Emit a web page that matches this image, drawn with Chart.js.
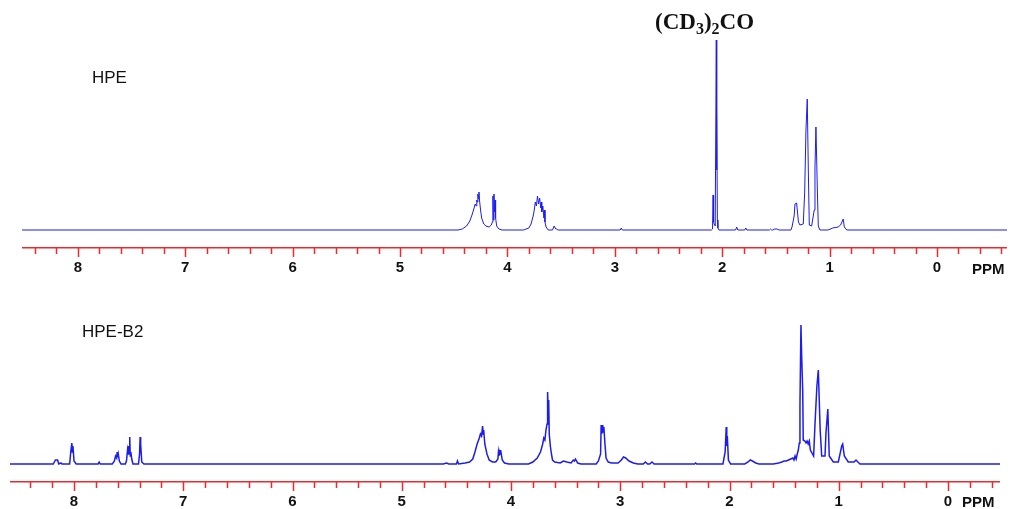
<!DOCTYPE html>
<html>
<head>
<meta charset="utf-8">
<script src="https://cdn.jsdelivr.net/npm/chart.js@4.4.1/dist/chart.umd.min.js"></script>
<style>
  body { margin: 0; background: #fff; }
  #wrap { position: relative; width: 1010px; height: 509px; overflow: hidden; font-family: "Liberation Sans", Arial, sans-serif; }
  canvas { position: absolute; }
  .lbl { position: absolute; color: #111; white-space: nowrap; line-height: 1; }
  .solvent { font-family: "Liberation Serif", "Times New Roman", serif; font-weight: bold; font-size: 23px; }
  .solvent sub { font-size: 16px; vertical-align: -5px; line-height: 0; }
  .ppm { font-weight: bold; font-size: 15px; }
</style>
</head>
<body>
<div id="wrap">
  <canvas id="topChart" width="985" height="275" style="left:22px;top:0px"></canvas>
  <canvas id="bottomChart" width="990" height="209" style="left:10px;top:300px"></canvas>
  <div class="lbl solvent" style="left:655px;top:10px">(CD<sub>3</sub>)<sub>2</sub>CO</div>
  <div class="lbl" style="left:92px;top:69px;font-size:17px">HPE</div>
  <div class="lbl" style="left:82px;top:323px;font-size:17px">HPE-B2</div>
  <div class="lbl ppm" style="left:972px;top:261px">PPM</div>
  <div class="lbl ppm" style="left:962px;top:494px">PPM</div>
</div>
<script>
// integer labels on the ppm axis
const ppmLabels = [8, 7, 6, 5, 4, 3, 2, 1, 0];

// HPE spectrum (chemical shift, ppm / relative intensity)
const hpeShift = [
  8.52, 4.46, 4.42, 4.38, 4.35, 4.33, 4.31, 4.30, 4.29, 4.285, 4.28, 4.275, 4.27, 4.265, 4.26, 4.25, 4.24, 4.22, 4.20, 4.17,
  4.15, 4.14, 4.135, 4.13, 4.125, 4.12, 4.115, 4.11, 4.10, 4.08, 4.05,
  3.85, 3.80, 3.78, 3.76, 3.75, 3.74, 3.73, 3.72, 3.71, 3.70, 3.69, 3.685, 3.68, 3.67, 3.66, 3.655, 3.65, 3.64, 3.62,
  3.58, 3.565, 3.55, 3.54, 3.53,
  2.95, 2.94, 2.93,
  2.10, 2.09, 2.085, 2.08, 2.075, 2.065, 2.055, 2.052, 2.05, 2.045, 2.04, 2.03,
  1.875, 1.865, 1.855, 1.79, 1.78, 1.77, 1.56, 1.55, 1.54, 1.53, 1.51, 1.49, 1.47,
  1.36, 1.35, 1.33, 1.322, 1.307, 1.29, 1.276, 1.245, 1.232, 1.22, 1.208, 1.198, 1.189, 1.167,
  1.143, 1.136, 1.127, 1.115, 1.105, 1.09, 1.015, 0.97, 0.92, 0.897, 0.873, 0.863, 0.84, -0.652
];
const hpeIntensity = [
  0, 0, 1, 4, 9, 15, 22, 26, 24, 30, 28, 36, 31, 38, 30, 20, 12, 6, 4, 3,
  5, 8, 34, 10, 36, 18, 30, 12, 4, 1, 0,
  0, 2, 6, 14, 20, 28, 24, 34, 26, 32, 22, 28, 18, 24, 12, 20, 8, 3, 0,
  0, 4, 1, 1, 0,
  0, 2, 0,
  0, 1, 35, 8, 6, 4, 190, 60, 125, 10, 2, 0,
  0, 3, 0, 0, 2, 0, 0, 1, 0, 0, 1, 1, 0,
  0, 3, 14, 26, 27, 8, 5, 6, 38, 100, 131, 60, 5, 4,
  20, 62, 103, 45, 4, 0, 0, 2, 3, 5, 11, 3, 0, 0
];

// HPE-B2 spectrum (chemical shift, ppm / relative intensity)
const b2Shift = [
  8.586, 8.19, 8.17, 8.15, 8.14, 8.12, 8.11, 8.04, 8.03, 8.02, 8.015, 8.01, 8.00, 7.98,
  7.78, 7.77, 7.76, 7.65, 7.63, 7.62, 7.61, 7.605, 7.60, 7.595, 7.585, 7.57,
  7.53, 7.52, 7.51, 7.505, 7.50, 7.495, 7.49, 7.485, 7.48, 7.47, 7.46,
  7.41, 7.40, 7.395, 7.39, 7.38, 7.36,
  4.62, 4.59, 4.57, 4.50, 4.49, 4.48, 4.42, 4.38, 4.35, 4.33, 4.31, 4.29, 4.28, 4.27, 4.26, 4.255, 4.25, 4.24, 4.22, 4.20,
  4.17, 4.14, 4.12, 4.115, 4.11, 4.105, 4.10, 4.095, 4.08, 4.06, 4.02,
  3.84, 3.80, 3.76, 3.73, 3.71, 3.70, 3.69, 3.68, 3.67, 3.665, 3.66, 3.655, 3.65, 3.64, 3.63, 3.62, 3.60,
  3.55, 3.52, 3.49, 3.45, 3.43, 3.42, 3.41, 3.39, 3.36,
  3.22, 3.20, 3.18, 3.175, 3.17, 3.16, 3.155, 3.15, 3.14, 3.13, 3.11, 3.08,
  3.02, 2.99, 2.97, 2.95, 2.92, 2.88, 2.84, 2.79, 2.77, 2.75, 2.73, 2.71, 2.69,
  2.32, 2.31, 2.30,
  2.06, 2.04, 2.03, 2.025, 2.02, 2.01, 1.99, 1.86, 1.83, 1.81, 1.79, 1.76, 1.73,
  1.60, 1.55, 1.52, 1.50, 1.48, 1.46, 1.44, 1.42, 1.41, 1.40, 1.39, 1.38, 1.37, 1.361,
  1.355, 1.346, 1.34, 1.33, 1.325, 1.31, 1.30, 1.29, 1.28, 1.27, 1.26, 1.23,
  1.217, 1.20, 1.187, 1.17, 1.156, 1.126, 1.117, 1.10, 1.087, 1.05, 1.004, 0.973, 0.964, 0.949, 0.913,
  0.86, 0.842, 0.825, 0.805, -0.476
];
const b2Intensity = [
  0, 0, 4, 4, 0, 1, 0, 0, 12, 21, 12, 18, 3, 0,
  0, 2, 0, 0, 3, 8, 6, 12, 7, 10, 3, 0,
  0, 3, 14, 10, 18, 12, 27, 8, 12, 4, 0,
  0, 10, 27, 20, 2, 0,
  0, 1, 0, 0, 3, 0, 1, 2, 5, 12, 20, 26, 30, 28, 38, 30, 34, 20, 10, 4,
  2, 2, 5, 12, 8, 12, 10, 14, 4, 1, 0,
  0, 2, 6, 12, 20, 26, 24, 34, 40, 72, 50, 64, 30, 18, 10, 4, 2,
  1, 3, 2, 1, 4, 3, 5, 1, 0,
  0, 3, 10, 39, 30, 39, 32, 37, 20, 6, 2, 1,
  1, 4, 7, 6, 3, 1, 0, 0, 2, 0, 0, 2, 0,
  0, 1, 0,
  0, 12, 37, 18, 28, 4, 0, 0, 2, 4, 3, 1, 0,
  0, 1, 2, 3, 3, 4, 5, 6, 4, 8, 5, 10, 14, 21,
  60, 139, 110, 74, 24, 23, 21, 23, 20, 23, 14, 8,
  41, 78, 94, 34, 8, 8, 31, 55, 8, 2, 2, 18, 20, 8, 2,
  2, 4, 2, 0, 0
];

const toPoints = (xs, ys) => xs.map((x, i) => ({ x: x, y: ys[i] }));

const isWhole = v => Math.abs(v - Math.round(v)) < 1e-6;

// red ticks: long at whole ppm, short at 0.2 ppm
const redTicks = {
  id: 'redTicks',
  afterDraw(chart) {
    const s = chart.scales.x;
    const ctx = chart.ctx;
    ctx.save();
    ctx.strokeStyle = '#f0282c';
    ctx.lineWidth = 1.5;
    s.ticks.forEach(t => {
      const px = Math.round(s.getPixelForValue(t.value)) + 0.5;
      const len = isWhole(t.value) ? 9 : 6;
      ctx.beginPath();
      ctx.moveTo(px, s.top);
      ctx.lineTo(px, s.top + len);
      ctx.stroke();
    });
    ctx.restore();
  }
};

function makeSpectrum(id, shift, intensity, xMin, xMax, yMax, width) {
  return new Chart(document.getElementById(id), {
    type: 'line',
    data: {
      datasets: [{
        data: toPoints(shift, intensity),
        borderColor: '#1c1cf0',
        borderWidth: width,
        pointRadius: 0,
        tension: 0,
        fill: false
      }]
    },
    options: {
      responsive: false,
      animation: false,
      layout: { padding: 0 },
      plugins: { legend: { display: false }, tooltip: { enabled: false } },
      scales: {
        x: {
          type: 'linear',
          reverse: true,
          min: xMin,
          max: xMax,
          afterFit: scale => { scale.height = 27; },
          border: { display: true, color: '#f0282c', width: 1.5 },
          grid: { display: true, drawOnChartArea: false, drawTicks: true, tickLength: 9, color: 'transparent', tickColor: 'transparent' },
          ticks: {
            stepSize: 0.2,
            includeBounds: false,
            autoSkip: false,
            maxRotation: 0,
            padding: 2,
            color: '#111',
            font: { family: '"Liberation Sans", Arial, sans-serif', size: 15, weight: 'bold' },
            callback: v => (isWhole(v) && ppmLabels.includes(Math.round(v))) ? String(Math.round(v)) : ''
          }
        },
        y: { display: false, min: -18, max: yMax }
      }
    },
    plugins: [redTicks]
  });
}

makeSpectrum('topChart', hpeShift, hpeIntensity, -0.652, 8.52, 230, 1);
makeSpectrum('bottomChart', b2Shift, b2Intensity, -0.476, 8.586, 164, 1.5);
</script>
</body>
</html>
